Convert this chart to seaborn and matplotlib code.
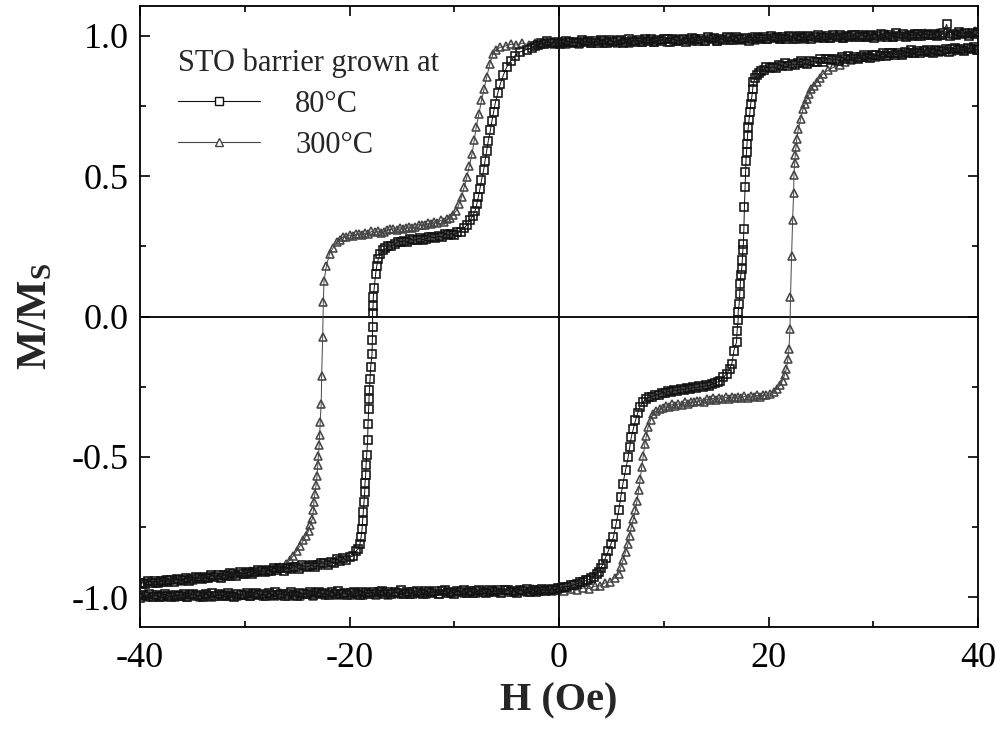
import matplotlib
matplotlib.use("Agg")
import matplotlib.pyplot as plt
from matplotlib.lines import Line2D
from matplotlib.ticker import MultipleLocator
import seaborn as sns
import pandas as pd

# ---------------- data (H in Oe, M/Ms) ----------------
# 80 C sample, descending branch (+40 -> -40)
desc_80 = [
    (40.0, 1.012), (39.7, 1.004), (39.4, 1.008), (39.1, 1.000), (38.8, 1.010), (38.5, 1.005),
    (38.2, 1.013), (37.9, 1.001), (37.6, 1.007), (37.3, 1.000), (37.0, 1.040), (36.7, 1.010),
    (36.4, 1.002), (36.1, 0.997), (35.8, 1.007), (35.5, 1.003), (35.2, 1.001), (34.9, 1.006),
    (34.6, 0.998), (34.3, 1.005), (34.0, 1.007), (33.7, 0.999), (33.4, 1.003), (33.1, 0.995),
    (32.8, 1.005), (32.5, 1.000), (32.2, 1.008), (31.9, 0.996), (31.6, 1.002), (31.3, 0.995),
    (31.0, 1.001), (30.7, 1.006), (30.4, 0.997), (30.1, 0.992), (29.8, 1.002), (29.5, 0.999),
    (29.2, 0.996), (28.9, 1.003), (28.6, 0.993), (28.3, 1.001), (28.0, 1.002), (27.7, 0.994),
    (27.4, 0.998), (27.1, 0.991), (26.8, 1.001), (26.5, 0.996), (26.2, 1.003), (25.9, 0.992),
    (25.6, 0.997), (25.3, 0.990), (25.0, 0.996), (24.7, 1.001), (24.4, 0.993), (24.1, 0.987),
    (23.8, 0.997), (23.5, 0.994), (23.2, 0.992), (22.9, 0.998), (22.6, 0.988), (22.3, 0.996),
    (22.0, 0.998), (21.7, 0.989), (21.4, 0.993), (21.1, 0.986), (20.8, 0.996), (20.5, 0.991),
    (20.2, 0.998), (19.9, 0.987), (19.6, 0.993), (19.3, 0.986), (19.0, 0.991), (18.7, 0.996),
    (18.4, 0.988), (18.1, 0.982), (17.8, 0.992), (17.5, 0.989), (17.2, 0.987), (16.9, 0.993),
    (16.6, 0.983), (16.3, 0.991), (16.0, 0.993), (15.7, 0.985), (15.4, 0.989), (15.1, 0.981),
    (14.8, 0.991), (14.5, 0.986), (14.2, 0.993), (13.9, 0.982), (13.6, 0.988), (13.3, 0.981),
    (13.0, 0.986), (12.7, 0.991), (12.4, 0.983), (12.1, 0.978), (11.8, 0.988), (11.5, 0.984),
    (11.2, 0.982), (10.9, 0.988), (10.6, 0.978), (10.3, 0.986), (10.0, 0.988), (9.7, 0.980),
    (9.4, 0.984), (9.1, 0.976), (8.8, 0.986), (8.5, 0.981), (8.2, 0.988), (7.9, 0.977),
    (7.6, 0.983), (7.3, 0.976), (7.0, 0.982), (6.7, 0.987), (6.4, 0.978), (6.1, 0.973),
    (5.8, 0.983), (5.5, 0.979), (5.2, 0.977), (4.9, 0.984), (4.6, 0.974), (4.3, 0.981),
    (4.0, 0.983), (3.7, 0.975), (3.4, 0.979), (3.1, 0.972), (2.8, 0.982), (2.5, 0.976),
    (2.2, 0.984), (1.9, 0.973), (1.6, 0.978), (1.3, 0.972), (1.0, 0.977), (0.7, 0.982),
    (0.4, 0.974), (0.1, 0.968), (-0.2, 0.978), (-0.5, 0.975), (-0.8, 0.972), (-1.1, 0.979),
    (-1.4, 0.968), (-1.7, 0.975), (-2.0, 0.966), (-2.3, 0.963), (-2.6, 0.957),
    (-3.1, 0.950), (-3.7, 0.942), (-4.2, 0.928), (-4.6, 0.910), (-5.0, 0.887), (-5.3, 0.860),
    (-5.6, 0.828), (-5.85, 0.795), (-6.1, 0.757), (-6.25, 0.727), (-6.4, 0.697), (-6.55, 0.662),
    (-6.75, 0.626), (-6.9, 0.590), (-7.06, 0.555), (-7.2, 0.520), (-7.4, 0.484), (-7.55, 0.455),
    (-7.7, 0.425), (-7.85, 0.400), (-8.0, 0.377), (-8.25, 0.358), (-8.5, 0.342), (-8.8, 0.325),
    (-9.1, 0.314), (-9.4, 0.302), (-9.7, 0.301), (-10.0, 0.291), (-10.3, 0.295), (-10.6, 0.289),
    (-10.9, 0.293), (-11.2, 0.283), (-11.5, 0.286), (-11.8, 0.280), (-12.1, 0.282), (-12.4, 0.284),
    (-12.7, 0.277), (-13.0, 0.273), (-13.3, 0.278), (-13.6, 0.274), (-13.9, 0.271), (-14.2, 0.275),
    (-14.5, 0.265), (-14.8, 0.269), (-15.1, 0.266), (-15.4, 0.265), (-15.7, 0.257), (-16.0, 0.252),
    (-16.3, 0.250), (-16.6, 0.242), (-16.8, 0.236), (-17.05, 0.222), (-17.25, 0.205), (-17.4, 0.180),
    (-17.5, 0.153), (-17.63, 0.103), (-17.73, 0.068), (-17.75, 0.039), (-17.8, 0.011), (-17.79, -0.038),
    (-17.82, -0.085), (-17.85, -0.135), (-17.98, -0.180), (-18.04, -0.222), (-18.10, -0.261),
    (-18.14, -0.293), (-18.17, -0.329), (-18.23, -0.382), (-18.27, -0.441), (-18.36, -0.492),
    (-18.42, -0.530), (-18.46, -0.563), (-18.52, -0.593), (-18.55, -0.625), (-18.62, -0.661),
    (-18.68, -0.696), (-18.74, -0.726), (-18.80, -0.756), (-18.90, -0.786), (-19.00, -0.809),
    (-19.16, -0.827), (-19.4, -0.835), (-19.7, -0.853), (-20.0, -0.855), (-20.3, -0.866),
    (-20.6, -0.861), (-20.9, -0.869), (-21.2, -0.864), (-21.5, -0.878), (-21.8, -0.874),
    (-22.1, -0.883), (-22.4, -0.879), (-22.7, -0.876), (-23.0, -0.886), (-23.3, -0.892),
    (-23.6, -0.884), (-23.9, -0.889), (-24.2, -0.892), (-24.5, -0.886), (-24.8, -0.898),
    (-25.1, -0.891), (-25.4, -0.890), (-25.7, -0.899), (-26.0, -0.896), (-26.3, -0.905),
    (-26.6, -0.896), (-26.9, -0.902), (-27.2, -0.895), (-27.5, -0.907), (-27.8, -0.902),
    (-28.1, -0.910), (-28.4, -0.906), (-28.7, -0.902), (-29.0, -0.911), (-29.3, -0.917),
    (-29.6, -0.909), (-29.9, -0.913), (-30.2, -0.916), (-30.5, -0.910), (-30.8, -0.922),
    (-31.1, -0.915), (-31.4, -0.914), (-31.7, -0.923), (-32.0, -0.920), (-32.3, -0.929),
    (-32.6, -0.920), (-32.9, -0.926), (-33.2, -0.919), (-33.5, -0.932), (-33.8, -0.927),
    (-34.1, -0.935), (-34.4, -0.930), (-34.7, -0.926), (-35.0, -0.935), (-35.3, -0.941),
    (-35.6, -0.932), (-35.9, -0.936), (-36.2, -0.939), (-36.5, -0.933), (-36.8, -0.944),
    (-37.1, -0.937), (-37.4, -0.936), (-37.7, -0.945), (-38.0, -0.942), (-38.3, -0.950),
    (-38.6, -0.941), (-38.9, -0.947), (-39.2, -0.940), (-39.5, -0.952), (-39.8, -0.947),
    (-40.0, -0.950),
]

# 80 C sample, ascending branch (-40 -> +40)
asc_80 = [
    (-40.0, -1.001), (-39.7, -0.991), (-39.4, -0.996), (-39.1, -0.988), (-38.8, -0.998), (-38.5, -0.992),
    (-38.2, -0.999), (-37.9, -0.993), (-37.6, -0.988), (-37.3, -0.996), (-37.0, -1.000), (-36.7, -0.990),
    (-36.4, -0.993), (-36.1, -0.995), (-35.8, -0.988), (-35.5, -0.998), (-35.2, -0.990), (-34.9, -0.988),
    (-34.6, -0.996), (-34.3, -0.991), (-34.0, -0.998), (-33.7, -0.988), (-33.4, -0.993), (-33.1, -0.985),
    (-32.8, -0.996), (-32.5, -0.989), (-32.2, -0.996), (-31.9, -0.990), (-31.6, -0.985), (-31.3, -0.993),
    (-31.0, -0.998), (-30.7, -0.987), (-30.4, -0.990), (-30.1, -0.992), (-29.8, -0.985), (-29.5, -0.995),
    (-29.2, -0.986), (-28.9, -0.984), (-28.6, -0.992), (-28.3, -0.988), (-28.0, -0.995), (-27.7, -0.985),
    (-27.4, -0.990), (-27.1, -0.981), (-26.8, -0.992), (-26.5, -0.986), (-26.2, -0.993), (-25.9, -0.987),
    (-25.6, -0.982), (-25.3, -0.990), (-25.0, -0.995), (-24.7, -0.984), (-24.4, -0.987), (-24.1, -0.989),
    (-23.8, -0.982), (-23.5, -0.992), (-23.2, -0.983), (-22.9, -0.981), (-22.6, -0.989), (-22.3, -0.985),
    (-22.0, -0.992), (-21.7, -0.982), (-21.4, -0.987), (-21.1, -0.978), (-20.8, -0.989), (-20.5, -0.983),
    (-20.2, -0.990), (-19.9, -0.984), (-19.6, -0.979), (-19.3, -0.987), (-19.0, -0.991), (-18.7, -0.981),
    (-18.4, -0.984), (-18.1, -0.986), (-17.8, -0.979), (-17.5, -0.989), (-17.2, -0.980), (-16.9, -0.978),
    (-16.6, -0.986), (-16.3, -0.982), (-16.0, -0.989), (-15.7, -0.979), (-15.4, -0.984), (-15.1, -0.975),
    (-14.8, -0.986), (-14.5, -0.980), (-14.2, -0.987), (-13.9, -0.981), (-13.6, -0.976), (-13.3, -0.984),
    (-13.0, -0.988), (-12.7, -0.978), (-12.4, -0.981), (-12.1, -0.983), (-11.8, -0.976), (-11.5, -0.986),
    (-11.2, -0.977), (-10.9, -0.975), (-10.6, -0.983), (-10.3, -0.979), (-10.0, -0.986), (-9.7, -0.976),
    (-9.4, -0.981), (-9.1, -0.972), (-8.8, -0.983), (-8.5, -0.977), (-8.2, -0.984), (-7.9, -0.978),
    (-7.6, -0.973), (-7.3, -0.981), (-7.0, -0.985), (-6.7, -0.975), (-6.4, -0.978), (-6.1, -0.980),
    (-5.8, -0.973), (-5.5, -0.983), (-5.2, -0.974), (-4.9, -0.972), (-4.6, -0.980), (-4.3, -0.976),
    (-4.0, -0.983), (-3.7, -0.973), (-3.4, -0.978), (-3.1, -0.969), (-2.8, -0.980), (-2.5, -0.974),
    (-2.2, -0.981), (-1.9, -0.975), (-1.6, -0.970), (-1.3, -0.978), (-1.0, -0.972), (-0.7, -0.968),
    (-0.4, -0.974), (-0.1, -0.967), (0.2, -0.966), (0.5, -0.961), (0.8, -0.962), (1.1, -0.957),
    (1.4, -0.955), (1.7, -0.951), (2.0, -0.946), (2.3, -0.944), (2.6, -0.939), (2.8, -0.936),
    (3.1, -0.931), (3.3, -0.926), (3.6, -0.918), (3.8, -0.908), (4.0, -0.895), (4.2, -0.880),
    (4.45, -0.858), (4.7, -0.835), (4.95, -0.810), (5.2, -0.785),
    (5.45, -0.737), (5.7, -0.690), (5.9, -0.642), (6.1, -0.595), (6.35, -0.548), (6.6, -0.501),
    (6.75, -0.465), (6.9, -0.429), (7.1, -0.399), (7.3, -0.370), (7.5, -0.345), (7.7, -0.323),
    (8.0, -0.305), (8.3, -0.293), (8.6, -0.287), (8.9, -0.285), (9.2, -0.278), (9.5, -0.279),
    (9.8, -0.271), (10.1, -0.272), (10.4, -0.266), (10.7, -0.270), (11.0, -0.262), (11.3, -0.265),
    (11.6, -0.258), (11.9, -0.261), (12.2, -0.254), (12.5, -0.258), (12.8, -0.251), (13.1, -0.255),
    (13.4, -0.248), (13.7, -0.252), (14.0, -0.244), (14.3, -0.247), (14.6, -0.240),
    (14.9, -0.238), (15.15, -0.233), (15.4, -0.228), (15.7, -0.216), (16.0, -0.204), (16.3, -0.186),
    (16.5, -0.168), (16.7, -0.121), (16.95, -0.091), (17.0, -0.052), (17.1, -0.014), (17.1, 0.015),
    (17.2, 0.045), (17.25, 0.081), (17.3, 0.116), (17.35, 0.146), (17.44, 0.170), (17.5, 0.202),
    (17.55, 0.235), (17.6, 0.259), (17.65, 0.312), (17.7, 0.389), (17.76, 0.460), (17.8, 0.514),
    (17.85, 0.555), (17.9, 0.585), (17.95, 0.615), (18.0, 0.644), (18.07, 0.674), (18.14, 0.700),
    (18.23, 0.727), (18.3, 0.757), (18.4, 0.780), (18.5, 0.810), (18.55, 0.834), (18.75, 0.848),
    (18.9, 0.858), (19.1, 0.866), (19.3, 0.873), (19.55, 0.879),
    (19.8, 0.887), (20.1, 0.883), (20.4, 0.889), (20.7, 0.884), (21.0, 0.896), (21.3, 0.893),
    (21.6, 0.902), (21.9, 0.892), (22.2, 0.900), (22.5, 0.895), (22.8, 0.902), (23.1, 0.908),
    (23.4, 0.901), (23.7, 0.898), (24.0, 0.909), (24.3, 0.907), (24.6, 0.906), (24.9, 0.915),
    (25.2, 0.906), (25.5, 0.915), (25.8, 0.918), (26.1, 0.912), (26.4, 0.917), (26.7, 0.911),
    (27.0, 0.922), (27.3, 0.918), (27.6, 0.927), (27.9, 0.917), (28.2, 0.924), (28.5, 0.918),
    (28.8, 0.925), (29.1, 0.931), (29.4, 0.924), (29.7, 0.920), (30.0, 0.931), (30.3, 0.929),
    (30.6, 0.928), (30.9, 0.936), (31.2, 0.927), (31.5, 0.936), (31.8, 0.939), (32.1, 0.932),
    (32.4, 0.937), (32.7, 0.931), (33.0, 0.942), (33.3, 0.938), (33.6, 0.947), (33.9, 0.937),
    (34.2, 0.944), (34.5, 0.937), (34.8, 0.944), (35.1, 0.950), (35.4, 0.942), (35.7, 0.938),
    (36.0, 0.949), (36.3, 0.946), (36.6, 0.945), (36.9, 0.953), (37.2, 0.943), (37.5, 0.951),
    (37.8, 0.954), (38.1, 0.947), (38.4, 0.951), (38.7, 0.945), (39.0, 0.955), (39.3, 0.951),
    (39.6, 0.959), (39.9, 0.949), (40.0, 0.953),
]

# 300 C sample, descending branch (+40 -> -40)
desc_300 = [
    (39.7, 1.015), (39.1, 1.006), (38.5, 1.013), (37.9, 1.004), (37.3, 1.010), (36.7, 1.002),
    (36.1, 1.009), (35.5, 1.001), (34.9, 1.008), (34.3, 0.999), (33.7, 1.006), (33.1, 0.997),
    (32.5, 1.005), (31.9, 0.996), (31.3, 1.004), (30.7, 0.995), (30.1, 1.003), (29.5, 0.994),
    (28.9, 1.002), (28.3, 0.993), (27.7, 1.001), (27.1, 0.992), (26.5, 1.000), (25.9, 0.991),
    (25.3, 0.999), (24.7, 0.990), (24.1, 0.998), (23.5, 0.989), (22.9, 0.997), (22.3, 0.988),
    (21.7, 0.996), (21.1, 0.987), (20.5, 0.995), (19.9, 0.986), (19.3, 0.994), (18.7, 0.985),
    (18.1, 0.993), (17.5, 0.984), (16.9, 0.992), (16.3, 0.983), (15.7, 0.991), (15.1, 0.982),
    (14.5, 0.990), (13.9, 0.981), (13.3, 0.989), (12.7, 0.980), (12.1, 0.988), (11.5, 0.979),
    (10.9, 0.987), (10.3, 0.978), (9.7, 0.986), (9.1, 0.977), (8.5, 0.985), (7.9, 0.976),
    (7.3, 0.984), (6.7, 0.975), (6.1, 0.983), (5.5, 0.974), (4.9, 0.982), (4.3, 0.973),
    (3.7, 0.981), (3.1, 0.972), (2.5, 0.979), (1.9, 0.971), (1.3, 0.978), (0.7, 0.970),
    (0.1, 0.977), (-0.5, 0.969), (-1.1, 0.976), (-1.7, 0.968), (-2.3, 0.975), (-2.9, 0.967),
    (-3.5, 0.973), (-4.1, 0.966), (-4.6, 0.969), (-5.1, 0.963), (-5.6, 0.958), (-6.0, 0.950),
    (-6.3, 0.935), (-6.6, 0.900), (-6.9, 0.852), (-7.15, 0.810), (-7.4, 0.769), (-7.65, 0.720),
    (-7.9, 0.674), (-8.1, 0.627), (-8.3, 0.579), (-8.55, 0.537), (-8.8, 0.496), (-9.05, 0.460),
    (-9.3, 0.425), (-9.55, 0.400), (-9.8, 0.377), (-10.1, 0.362), (-10.4, 0.349), (-10.7, 0.347),
    (-11.0, 0.337), (-11.3, 0.342), (-11.6, 0.334), (-11.9, 0.338), (-12.2, 0.328), (-12.5, 0.331),
    (-12.8, 0.324), (-13.1, 0.326), (-13.4, 0.327), (-13.7, 0.319), (-14.0, 0.314), (-14.3, 0.319),
    (-14.6, 0.315), (-14.9, 0.312), (-15.2, 0.316), (-15.5, 0.308), (-15.8, 0.312), (-16.1, 0.310),
    (-16.4, 0.309), (-16.7, 0.301), (-17.0, 0.298), (-17.3, 0.304), (-17.6, 0.299), (-17.9, 0.303),
    (-18.2, 0.294), (-18.5, 0.297), (-18.8, 0.291), (-19.1, 0.295), (-19.4, 0.292), (-19.7, 0.287),
    (-20.0, 0.290), (-20.3, 0.284), (-20.6, 0.284), (-20.95, 0.274), (-21.2, 0.264),
    (-21.55, 0.245), (-21.9, 0.223), (-22.2, 0.181), (-22.43, 0.128), (-22.5, 0.051), (-22.56, -0.074),
    (-22.66, -0.210), (-22.7, -0.311), (-22.8, -0.376), (-22.85, -0.423), (-22.9, -0.459),
    (-22.97, -0.495), (-23.04, -0.530), (-23.1, -0.566), (-23.2, -0.601), (-23.3, -0.631),
    (-23.4, -0.661), (-23.45, -0.690), (-23.55, -0.720), (-23.75, -0.742), (-23.9, -0.762),
    (-24.15, -0.780), (-24.4, -0.797), (-24.7, -0.815), (-25.0, -0.833), (-25.35, -0.851),
    (-25.7, -0.868), (-26.1, -0.881), (-26.6, -0.892), (-27.1, -0.895), (-27.7, -0.904),
    (-28.3, -0.901), (-28.9, -0.911), (-29.5, -0.907), (-30.1, -0.916), (-30.7, -0.912),
    (-31.3, -0.922), (-31.9, -0.917), (-32.5, -0.927), (-33.1, -0.922), (-33.7, -0.932),
    (-34.3, -0.927), (-34.9, -0.936), (-35.5, -0.931), (-36.1, -0.940), (-36.7, -0.935),
    (-37.3, -0.944), (-37.9, -0.939), (-38.5, -0.948), (-39.1, -0.942), (-39.7, -0.951),
]

# 300 C sample, ascending branch (-40 -> +40)
asc_300 = [
    (-39.7, -0.992), (-39.1, -1.000), (-38.5, -0.991), (-37.9, -0.999), (-37.3, -0.990), (-36.7, -0.998),
    (-36.1, -0.989), (-35.5, -0.998), (-34.9, -0.989), (-34.3, -0.997), (-33.7, -0.988), (-33.1, -0.997),
    (-32.5, -0.988), (-31.9, -0.996), (-31.3, -0.987), (-30.7, -0.996), (-30.1, -0.987), (-29.5, -0.995),
    (-28.9, -0.986), (-28.3, -0.995), (-27.7, -0.986), (-27.1, -0.994), (-26.5, -0.985), (-25.9, -0.994),
    (-25.3, -0.985), (-24.7, -0.993), (-24.1, -0.984), (-23.5, -0.993), (-22.9, -0.984), (-22.3, -0.992),
    (-21.7, -0.983), (-21.1, -0.992), (-20.5, -0.983), (-19.9, -0.991), (-19.3, -0.982), (-18.7, -0.991),
    (-18.1, -0.982), (-17.5, -0.990), (-16.9, -0.981), (-16.3, -0.990), (-15.7, -0.981), (-15.1, -0.989),
    (-14.5, -0.980), (-13.9, -0.988), (-13.3, -0.979), (-12.7, -0.987), (-12.1, -0.979), (-11.5, -0.986),
    (-10.9, -0.978), (-10.3, -0.985), (-9.7, -0.977), (-9.1, -0.984), (-8.5, -0.976), (-7.9, -0.983),
    (-7.3, -0.975), (-6.7, -0.982), (-6.1, -0.974), (-5.5, -0.981), (-4.9, -0.973), (-4.3, -0.980),
    (-3.7, -0.972), (-3.1, -0.979), (-2.5, -0.971), (-1.9, -0.978), (-1.3, -0.970), (-0.7, -0.977),
    (-0.1, -0.971), (0.5, -0.977), (1.1, -0.969), (1.7, -0.974), (2.3, -0.966), (2.9, -0.968),
    (3.4, -0.960), (3.9, -0.959), (4.4, -0.948), (4.9, -0.945), (5.3, -0.930), (5.7, -0.916),
    (5.9, -0.892), (6.1, -0.868), (6.35, -0.838), (6.6, -0.809), (6.75, -0.780), (6.9, -0.750),
    (7.1, -0.720), (7.3, -0.690), (7.45, -0.655), (7.6, -0.619), (7.75, -0.578), (7.9, -0.536),
    (8.05, -0.495), (8.2, -0.453), (8.35, -0.424), (8.5, -0.394), (8.75, -0.368), (9.0, -0.346),
    (9.3, -0.335), (9.6, -0.329), (9.9, -0.325), (10.2, -0.318), (10.5, -0.322), (10.8, -0.313),
    (11.1, -0.318), (11.4, -0.311), (11.7, -0.315), (12.0, -0.306), (12.3, -0.311), (12.6, -0.304),
    (12.9, -0.306), (13.2, -0.302), (13.5, -0.299), (13.8, -0.303), (14.1, -0.294), (14.4, -0.297),
    (14.7, -0.291), (15.0, -0.296), (15.3, -0.289), (15.6, -0.294), (15.9, -0.288), (16.2, -0.292),
    (16.5, -0.286), (16.8, -0.291), (17.1, -0.285), (17.4, -0.290), (17.7, -0.284), (18.0, -0.289),
    (18.3, -0.283), (18.6, -0.287), (18.9, -0.281), (19.2, -0.285), (19.5, -0.279), (19.8, -0.280),
    (20.1, -0.276), (20.5, -0.268), (20.8, -0.258), (21.1, -0.245), (21.35, -0.228), (21.55, -0.207),
    (21.7, -0.186), (21.85, -0.151), (21.95, -0.115), (22.05, -0.044), (22.1, 0.071), (22.2, 0.214),
    (22.3, 0.342), (22.4, 0.439), (22.43, 0.505), (22.5, 0.546), (22.55, 0.573), (22.63, 0.603),
    (22.7, 0.632), (22.85, 0.668), (23.07, 0.703), (23.3, 0.739), (23.5, 0.757), (23.7, 0.775),
    (23.9, 0.792), (24.1, 0.810), (24.35, 0.822), (24.6, 0.834), (24.9, 0.849), (25.2, 0.864),
    (25.7, 0.876), (26.2, 0.887), (26.8, 0.896), (27.3, 0.905), (27.9, 0.914), (28.5, 0.920),
    (29.1, 0.922), (29.7, 0.929), (30.3, 0.925), (30.9, 0.935), (31.5, 0.930), (32.1, 0.939),
    (32.7, 0.934), (33.3, 0.943), (33.9, 0.937), (34.5, 0.946), (35.1, 0.940), (35.7, 0.949),
    (36.3, 0.943), (36.9, 0.951), (37.5, 0.945), (38.1, 0.954), (38.7, 0.948), (39.3, 0.956),
    (39.9, 0.950),
]

samples = ["80°C", "300°C"]
colors = {"80°C": "#111111", "300°C": "#454545"}
markers = {"80°C": "s", "300°C": "^"}
x_ticks = [-40, -20, 0, 20, 40]
y_ticks = [-1.0, -0.5, 0.0, 0.5, 1.0]
y_ticklabels = ["-1.0", "-0.5", "0.0", "0.5", "1.0"]
x_ticklabels = ["-40", "-20", "0", "20", "40"]

# ---------------- build table ----------------
rows = []
for name, branch, pts in [("300°C", "desc", desc_300), ("300°C", "asc", asc_300),
                          ("80°C", "desc", desc_80), ("80°C", "asc", asc_80)]:
    for i, (h, m) in enumerate(pts):
        rows.append({"H": h, "M": m, "sample": name, "branch": name + branch, "order": i})
df = pd.DataFrame(rows)

sns.set_style("ticks")
plt.rcParams["font.family"] = ["Liberation Serif", "DejaVu Serif"]
plt.rcParams["mathtext.fontset"] = "custom"
plt.rcParams["mathtext.rm"] = "Liberation Serif:bold"
plt.rcParams["mathtext.it"] = "Liberation Serif:bold"
plt.rcParams["mathtext.bf"] = "Liberation Serif:bold"

fig = plt.figure(figsize=(9.97, 7.31), dpi=100)
ax = fig.add_axes([140 / 997, 1 - 627 / 731, (978 - 140) / 997, (627 - 6) / 731])

ax.axhline(0, color="black", lw=1.3, zorder=1)
ax.axvline(0, color="black", lw=1.3, zorder=1)

for br in ["300°Cdesc", "300°Casc", "80°Cdesc", "80°Casc"]:
    sub = df[df["branch"] == br]
    name = sub["sample"].iloc[0]
    sns.lineplot(data=sub, x="H", y="M", sort=False, estimator=None, ax=ax,
                 color=colors[name], lw=0.7, marker=markers[name], markersize=6.3,
                 markerfacecolor="none", markeredgecolor=colors[name],
                 markeredgewidth=1.15, zorder=3)

ax.set_xlim(-40, 40)
ax.set_ylim(-1.105, 1.105)
ax.set_xticks(x_ticks)
ax.set_xticklabels(x_ticklabels)
ax.set_yticks(y_ticks)
ax.set_yticklabels(y_ticklabels)
ax.xaxis.set_minor_locator(MultipleLocator(10))
ax.yaxis.set_minor_locator(MultipleLocator(0.25))
ax.tick_params(which="both", direction="in", top=True, right=True, width=1.2, colors="black")
ax.tick_params(which="major", length=7, labelsize=26)
ax.tick_params(axis="x", which="major", pad=11)
ax.tick_params(axis="y", which="major", pad=8)
ax.tick_params(which="minor", length=4)
for s in ax.spines.values():
    s.set_linewidth(1.3)
    s.set_color("black")

ax.set_xlabel("H (Oe)", fontsize=29, fontweight="bold", labelpad=5)
ax.set_ylabel(r"M/M$_\mathrm{S}$", fontsize=30, fontweight="bold", labelpad=12)

handles = [Line2D([], [], color=colors[s], lw=0.8, marker=markers[s], markersize=5.5,
                  markerfacecolor="white", markeredgecolor=colors[s], markeredgewidth=1.0)
           for s in samples]
leg = ax.legend(handles, samples, title="STO barrier grown at", loc="upper left",
                bbox_to_anchor=(0.045, 0.932), frameon=False, fontsize=22, title_fontsize=22,
                handlelength=2.7, handletextpad=1.15, labelspacing=0.4, borderaxespad=0,
                borderpad=0, alignment="left")

fig.savefig("out.png", dpi=100)
